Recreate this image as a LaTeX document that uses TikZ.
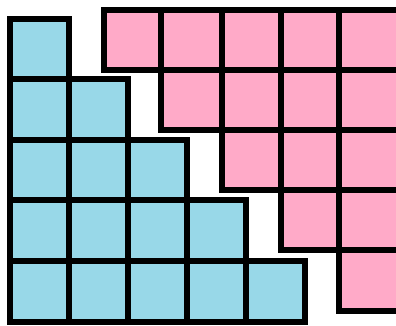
\documentclass[tikz,border=0pt]{standalone}
\definecolor{cellblue}{RGB}{152,216,232}
\definecolor{cellpink}{RGB}{255,170,200}
\tikzset{
  bluecell/.style={fill=cellblue,draw=black,line width=6pt,line join=miter},
  pinkcell/.style={fill=cellpink,draw=black,line width=6pt,line join=miter}
}
\begin{document}
\begin{tikzpicture}[x=1pt,y=-1pt]
\useasboundingbox (0,0) rectangle (396,325);
\clip (0,0) rectangle (396,325);
% blue staircase: row r (1..5) has r cells
\foreach \r in {1,...,5}{
  \foreach \c in {1,...,\r}{
    \pgfmathsetmacro{\xa}{9.5+59*(\c-1)}
    \pgfmathsetmacro{\ya}{18.5+60.6*(\r-1)}
    \filldraw[bluecell] (\xa,\ya) rectangle ++(59,60.6);
  }
}
% pink staircase: row r (1..5) has 6-r cells, starting at column r
\foreach \r in {1,...,5}{
  \foreach \c/\xa/\xb in {1/103.5/160.5,2/160.5/222,3/222/280.5,4/280.5/338.5,5/338.5/404}{
    \ifnum\c<\r\else
    \pgfmathsetmacro{\ya}{9.5+60.2*(\r-1)}
    \pgfmathsetmacro{\yb}{9.5+60.2*\r}
    \filldraw[pinkcell] (\xa,\ya) rectangle (\xb,\yb);
    \fi
  }
}
\end{tikzpicture}
\end{document}
